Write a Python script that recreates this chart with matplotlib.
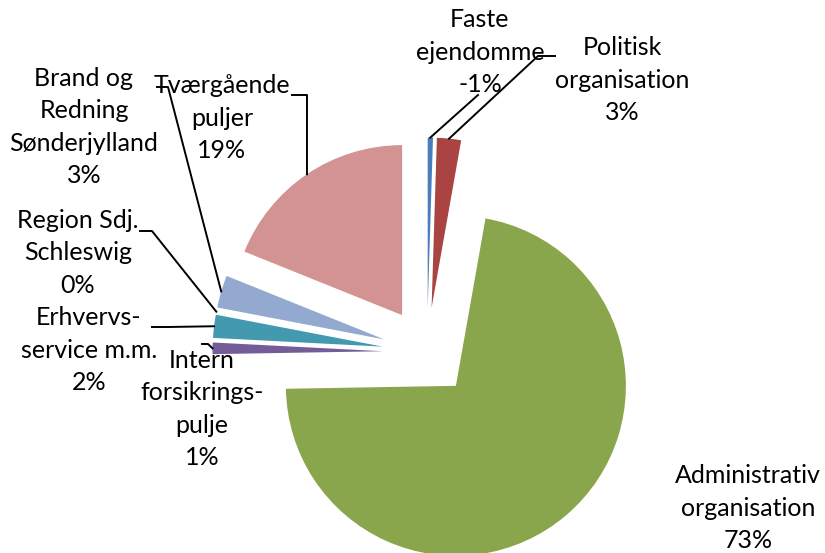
import numpy as np
import matplotlib.pyplot as plt

plt.rcParams['font.family'] = ['Lato', 'DejaVu Sans']

# Data (plottet som absolutte værdier, Excel viser negativ andel for Faste ejendomme)
navne = ["Faste\nejendomme", "Politisk\norganisation", "Administrativ\norganisation",
         "Intern\nforsikrings-\npulje", "Erhvervs-\nservice m.m.", "Region Sdj.\nSchleswig",
         "Brand og\nRedning\nSønderjylland", "Tværgående\npuljer"]
vaerdier = [0.5, 2.3, 72.3, 1.1, 2.2, 0.0, 3.1, 19.0]
procenter = ["-1%", "3%", "73%", "1%", "2%", "0%", "3%", "19%"]
farver = ["#4A7EBB", "#A94442", "#8AA64D", "#745C99", "#4299B0", "#5B9BD5", "#93A9CF", "#D39392"]

W, H = 825, 553

def px(x, y):
    # pixelkoordinater (fra øverste venstre hjørne) -> data
    return x, H - y

# Label-placering og knæk på ledelinjer (i pixels)
label_pos = [(480, 52), (622, 80), (748, 508), (202, 409),
             (89, 350), (78, 253), (84, 127), (222, 118)]
linje_knaek = [[(478, 95)],
               [(555, 56), (538, 56)],
               None,
               [(202, 344), (208, 344)],
               [(152, 327), (168, 327)],
               [(140, 231), (152, 231)],
               [(157, 87), (168, 87)],
               [(292, 95), (307, 95)]]

fig = plt.figure(figsize=(W / 100, H / 100), dpi=100)
ax = fig.add_axes([0, 0, 1, 1])

radius = 170
# explode er i dataenheder (pixels her)
wedges, _ = ax.pie(vaerdier, colors=farver, startangle=90, counterclock=False,
                   explode=[44.5] * len(vaerdier), radius=radius,
                   center=px(427, 352), wedgeprops=dict(linewidth=0))

for i, w in enumerate(wedges):
    x, y = px(*label_pos[i])
    ax.text(x, y, navne[i] + "\n" + procenter[i], ha='center', va='center',
            multialignment='center', fontsize=18, linespacing=1.5, color='black')
    if linje_knaek[i] is None:
        continue
    mid = np.deg2rad((w.theta1 + w.theta2) / 2)
    ankx = w.center[0] + w.r * np.cos(mid)
    anky = w.center[1] + w.r * np.sin(mid)
    pts = [px(*p) for p in linje_knaek[i]] + [(ankx, anky)]
    xs, ys = zip(*pts)
    ax.plot(xs, ys, color='black', linewidth=1.4)

ax.set_xlim(0, W)
ax.set_ylim(0, H)
ax.set_aspect('auto')
ax.axis('off')

plt.savefig("out.png", dpi=100)
